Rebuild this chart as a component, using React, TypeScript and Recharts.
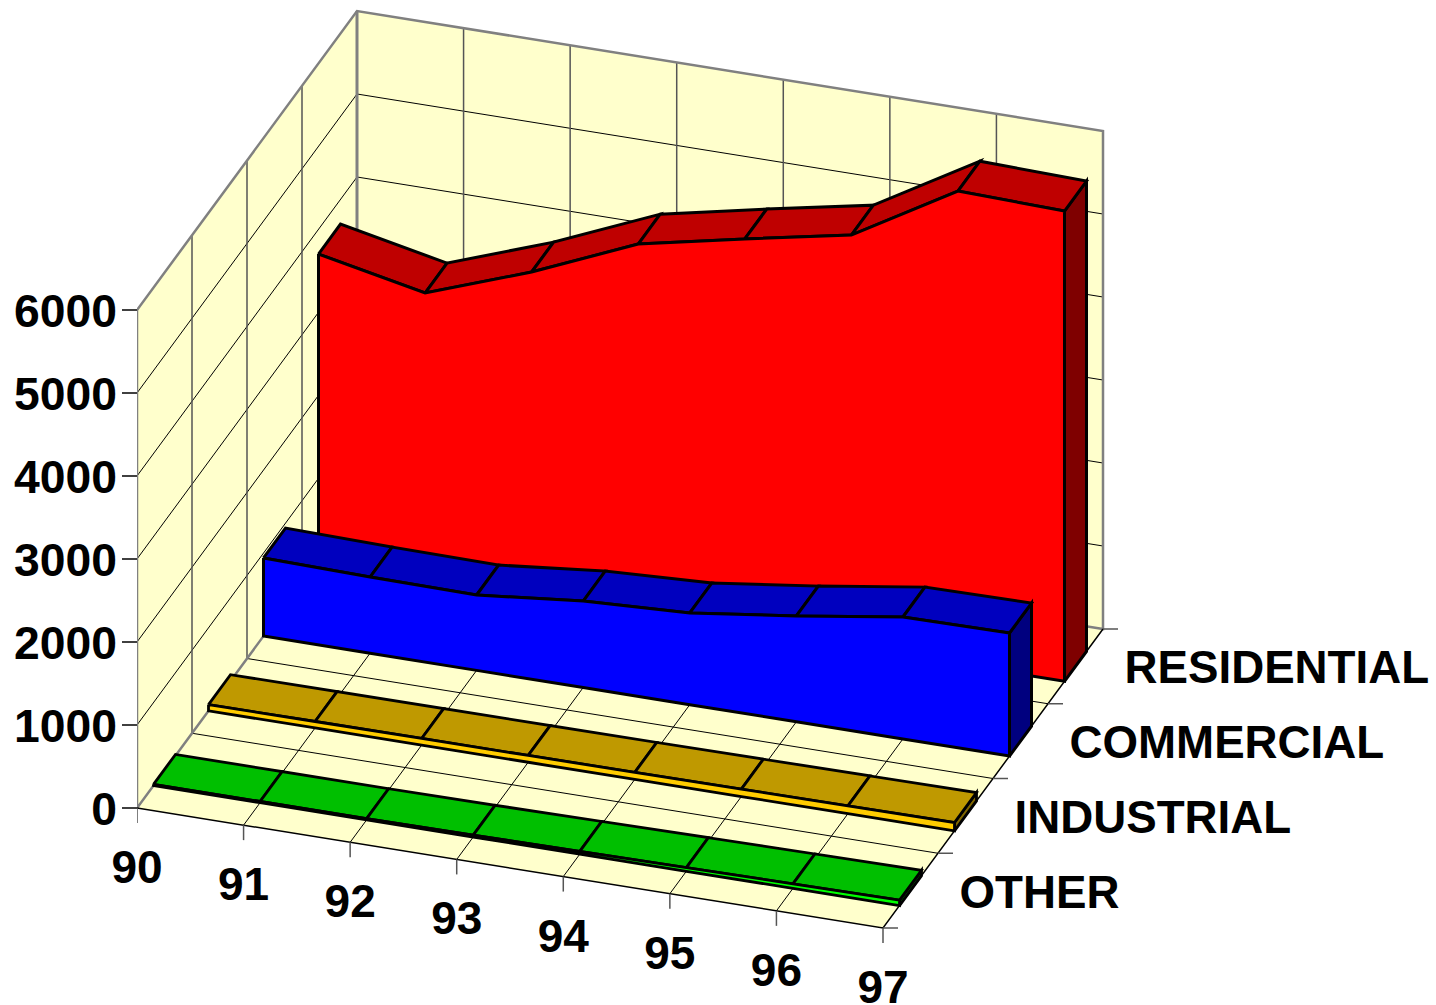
import React from "react";
import { ComposedChart, Area, Line, Scatter, XAxis, YAxis } from "recharts";

const years = [90, 91, 92, 93, 94, 95, 96, 97];
const valueTicks = [0, 1000, 2000, 3000, 4000, 5000, 6000];
const categories = ["OTHER", "INDUSTRIAL", "COMMERCIAL", "RESIDENTIAL"];

const residential = [3702, 3439, 3899, 4442, 4710, 4964, 5700, 5666];
const commercial = [941, 918, 908, 1042, 1105, 1275, 1469, 1483];
const industrial = [75, 78, 80, 82, 85, 90, 95, 100];
const other = [15, 15, 15, 22, 34, 45, 55, 65];

// chart frame, in pixels of the page
const W = 1436;
const H = 1005;
const LEFT = 137;
const ZERO = 808;
const PX_PER_UNIT = 0.083;
const PX_PER_YEAR = 746 / 7;
const YEAR_DROP = 120 / 7;
const DEPTH_DX = 55;
const DEPTH_DY = 74.75;

const xDomain = [90, 90 + (W - LEFT) / PX_PER_YEAR];
const yDomain = [(ZERO - H) / PX_PER_UNIT, ZERO / PX_PER_UNIT];

type P = { x: number; y: number };
// oblique projection of (year, depth band, value) into the 2D axis units
const proj = (year: number, depth: number, value: number): P => ({
  x: year + (depth * DEPTH_DX) / PX_PER_YEAR,
  y: value + (depth * DEPTH_DY - (year - 90) * YEAR_DROP) / PX_PER_UNIT,
});

// turn a convex polygon into low/high range rows for an Area
const polyRows = (pts: P[]) => {
  const xs = Array.from(new Set(pts.map((p) => p.x))).sort((a, b) => a - b);
  return xs.map((x) => {
    const hits: number[] = [];
    pts.forEach((a, i) => {
      const b = pts[(i + 1) % pts.length];
      const lo = Math.min(a.x, b.x);
      const hi = Math.max(a.x, b.x);
      if (x < lo || x > hi) return;
      if (a.x === b.x) hits.push(a.y, b.y);
      else hits.push(a.y + ((b.y - a.y) * (x - a.x)) / (b.x - a.x));
    });
    return { x, r: [Math.min(...hits), Math.max(...hits)] };
  });
};

let layer = 1;
const nodes: React.ReactNode[] = [];
const fill = (pts: P[], color: string) => {
  const z = layer++;
  nodes.push(
    <Area key={`a${z}`} zIndex={z} data={polyRows(pts)} dataKey="r" type="linear" fill={color} fillOpacity={1}
      stroke="none" dot={false} activeDot={false} isAnimationActive={false} legendType="none" />
  );
};
const rowsFill = (rows: { x: number; r: number[] }[], color: string) => {
  const z = layer++;
  nodes.push(
    <Area key={`a${z}`} zIndex={z} data={rows} dataKey="r" type="linear" fill={color} fillOpacity={1}
      stroke="none" dot={false} activeDot={false} isAnimationActive={false} legendType="none" />
  );
};
const stroke = (pts: P[], color: string, width: number) => {
  const z = layer++;
  nodes.push(
    <Line key={`l${z}`} zIndex={z} data={pts} dataKey="y" type="linear" stroke={color} strokeWidth={width}
      strokeLinejoin="miter" dot={false} activeDot={false} isAnimationActive={false} legendType="none" />
  );
};
const closed = (pts: P[]) => [...pts, pts[0]];

const WALL = "#FFFFCC";
const GRID = "#000000";
const WALL_GRID = "#555555";
const EDGE = "#808080";
const Y0 = years[0];
const Y1 = years[years.length - 1];
const TOP = valueTicks[valueTicks.length - 1];

// walls and floor
fill([proj(Y0, 0, 0), proj(Y0, 0, TOP), proj(Y0, 4, TOP), proj(Y0, 4, 0)], WALL);
fill([proj(Y0, 4, 0), proj(Y0, 4, TOP), proj(Y1, 4, TOP), proj(Y1, 4, 0)], WALL);
fill([proj(Y0, 0, 0), proj(Y1, 0, 0), proj(Y1, 4, 0), proj(Y0, 4, 0)], WALL);

valueTicks.slice(1, -1).forEach((v) => {
  stroke([proj(Y0, 0, v), proj(Y0, 4, v), proj(Y1, 4, v)], GRID, 1);
});
[1, 2, 3].forEach((d) => {
  stroke([proj(Y0, d, TOP), proj(Y0, d, 0)], WALL_GRID, 1.5);
  stroke([proj(Y0, d, 0), proj(Y1, d, 0)], GRID, 1);
});
years.slice(1, -1).forEach((y) => {
  stroke([proj(y, 4, TOP), proj(y, 4, 0)], WALL_GRID, 1.5);
  stroke([proj(y, 4, 0), proj(y, 0, 0)], GRID, 1);
});
stroke([proj(Y0, 0, 0), proj(Y0, 0, TOP), proj(Y0, 4, TOP), proj(Y1, 4, TOP), proj(Y1, 4, 0), proj(Y0, 4, 0), proj(Y0, 0, 0)], EDGE, 2.5);
stroke([proj(Y0, 4, TOP), proj(Y0, 4, 0)], EDGE, 3);
stroke([proj(Y0, 0, 0), proj(Y1, 0, 0), proj(Y1, 4, 0)], GRID, 1.5);

// tick marks on the floor edges
years.forEach((y) => {
  const a = proj(y, 0, 0);
  stroke([a, { x: a.x, y: a.y - 15 / PX_PER_UNIT }], WALL_GRID, 1.5);
});
[0, 1, 2, 3, 4].forEach((d) => {
  const a = proj(Y1, d, 0);
  stroke([a, { x: a.x + 15 / PX_PER_YEAR, y: a.y }], WALL_GRID, 1.5);
});

// one extruded ribbon per category, back to front
const ribbon = (values: number[], band: number, front: string, top: string, side: string, w: number) => {
  const d0 = band + 0.3;
  const d1 = band + 0.7;
  const n = values.length - 1;
  const sidePts = [proj(years[n], d0, 0), proj(years[n], d0, values[n]), proj(years[n], d1, values[n]), proj(years[n], d1, 0)];
  fill(sidePts, side);
  stroke(closed(sidePts), "#000000", w);
  values.slice(0, -1).forEach((v, i) => {
    const pts = [proj(years[i], d0, v), proj(years[i + 1], d0, values[i + 1]), proj(years[i + 1], d1, values[i + 1]), proj(years[i], d1, v)];
    fill(pts, top);
    stroke(closed(pts), "#000000", w);
  });
  const low = years.map((y) => proj(y, d0, 0));
  const high = years.map((y, i) => proj(y, d0, values[i]));
  rowsFill(years.map((_, i) => ({ x: low[i].x, r: [low[i].y, high[i].y] })), front);
  stroke(closed([...high, ...low.slice().reverse()]), "#000000", w);
};

ribbon(residential, 3, "#FF0000", "#BF0000", "#7F0000", 3);
ribbon(commercial, 2, "#0000FF", "#0000BF", "#00007F", 3);
ribbon(industrial, 1, "#FFCC00", "#BF9900", "#7F6600", 2.8);
ribbon(other, 0, "#00FF00", "#00BF00", "#007F00", 2.8);

const labelRows = categories.map((name, i) => ({ ...proj(Y1, i + 0.5, 0), name }));
const FONT = "'Liberation Sans', Arial, sans-serif";
const TEXT = { fontFamily: FONT, fontWeight: 700, fontSize: 46, fill: "#000000" };

const CategoryLabel = (p: any) => (
  <text x={p.cx + 49} y={p.cy + 17} textAnchor="start" {...TEXT} fontSize={45.7}>{p.payload.name}</text>
);

const YearTick = (p: any) => {
  const i = years.indexOf(p.payload.value);
  return (
    <text x={p.x} y={ZERO + i * YEAR_DROP + 75} textAnchor="middle" {...TEXT}>{p.payload.value}</text>
  );
};

const ValueTick = (p: any) => (
  <text x={p.x} y={p.y + 17} textAnchor="end" {...TEXT} fontSize={46.3}>{p.payload.value}</text>
);

export default function App() {
  return (
    <div style={{ position: "absolute", left: 0, top: 0, width: W, height: H, overflow: "hidden", background: "#fff" }}>
      <ComposedChart width={W} height={H + 1} margin={{ top: 0, right: 0, bottom: 0, left: 0 }}>
        <XAxis dataKey="x" type="number" domain={xDomain} allowDataOverflow ticks={years} interval={0}
          height={1} axisLine={false} tickLine={false} tick={<YearTick />} />
        <YAxis type="number" domain={yDomain} allowDataOverflow ticks={valueTicks} interval={0} width={LEFT}
          axisLine={false} tickSize={15} tickMargin={5} tickLine={{ stroke: "#000000", strokeWidth: 1.5 }}
          tick={<ValueTick />} />
        {nodes}
        <Scatter data={labelRows} dataKey="y" zIndex={layer + 1} shape={<CategoryLabel />} isAnimationActive={false} legendType="none" />
      </ComposedChart>
    </div>
  );
}
